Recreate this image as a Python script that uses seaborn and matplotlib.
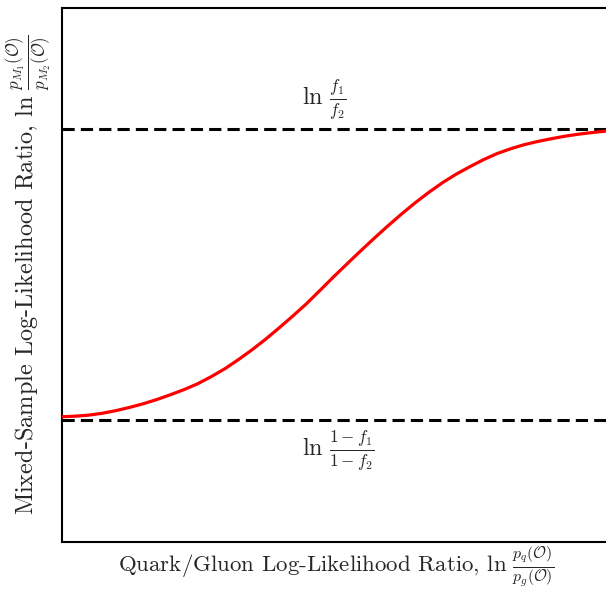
import matplotlib
matplotlib.use("Agg")
import matplotlib.pyplot as plt
import seaborn as sns
import pandas as pd

# Quark/gluon log-likelihood ratio (x) and the resulting mixed-sample log-likelihood ratio (y)
qg_llr = [-5.0, -4.75, -4.5, -4.25, -4.0, -3.75, -3.5, -3.25, -3.0, -2.75, -2.5,
          -2.25, -2.0, -1.75, -1.5, -1.25, -1.0, -0.75, -0.5, -0.25, 0.0,
          0.25, 0.5, 0.75, 1.0, 1.25, 1.5, 1.75, 2.0, 2.25, 2.5,
          2.75, 3.0, 3.25, 3.5, 3.75, 4.0, 4.25, 4.5, 4.75, 5.0]
mixed_llr = [-0.975, -0.971, -0.964, -0.951, -0.933, -0.911, -0.886, -0.857, -0.824, -0.789, -0.749,
             -0.700, -0.646, -0.583, -0.516, -0.443, -0.365, -0.284, -0.200, -0.108, -0.015,
             0.075, 0.164, 0.251, 0.335, 0.416, 0.493, 0.564, 0.630, 0.688, 0.739,
             0.787, 0.829, 0.862, 0.890, 0.912, 0.931, 0.948, 0.962, 0.973, 0.983]

# Asymptotic levels: ln(f1/f2) above, ln((1-f1)/(1-f2)) below
upper_level = 1.0
lower_level = -1.0
upper_label = r"$\ln\,\frac{f_1}{f_2}$"
lower_label = r"$\ln\,\frac{1-f_1}{1-f_2}$"

xlabel = r"Quark/Gluon Log-Likelihood Ratio, $\ln\,\frac{p_q(\mathcal{O})}{p_g(\mathcal{O})}$"
ylabel = r"Mixed-Sample Log-Likelihood Ratio, $\ln\,\frac{p_{M_1}(\mathcal{O})}{p_{M_2}(\mathcal{O})}$"

sns.set_style("white")
plt.rcParams["font.family"] = ["cmr10", "DejaVu Serif"]
plt.rcParams["mathtext.fontset"] = "cm"
plt.rcParams["axes.unicode_minus"] = False

fig = plt.figure(figsize=(6.06, 5.89), dpi=100)
ax = fig.add_axes([61.5 / 606, 47.5 / 589, 544.5 / 606, 534 / 589])

df = pd.DataFrame({"x": qg_llr, "y": mixed_llr})
ax.axhline(upper_level, color="black", lw=2.2, ls=(0, (4, 2)), zorder=2)
ax.axhline(lower_level, color="black", lw=2.2, ls=(0, (4, 2)), zorder=2)
sns.lineplot(data=df, x="x", y="y", color="red", lw=2.3, ax=ax, zorder=3)

ax.text(-0.58, 1.2, upper_label, ha="left", va="center", fontsize=17.5)
ax.text(-0.58, -1.21, lower_label, ha="left", va="center", fontsize=17.5)

ax.set_xlim(-5, 5)
ax.set_ylim(-1.83, 1.83)
ax.set_xticks([])
ax.set_yticks([])
ax.set_xlabel(xlabel, fontsize=16.5, va="center")
ax.set_ylabel(ylabel, fontsize=17.5, va="center")
ax.xaxis.set_label_coords(0.505, -0.047)
ax.yaxis.set_label_coords(-0.058, 0.5)

for side in ["left", "top", "bottom"]:
    ax.spines[side].set_linewidth(1.5)
    ax.spines[side].set_color("black")
ax.spines["right"].set_visible(False)

fig.savefig("out.png", dpi=100)
